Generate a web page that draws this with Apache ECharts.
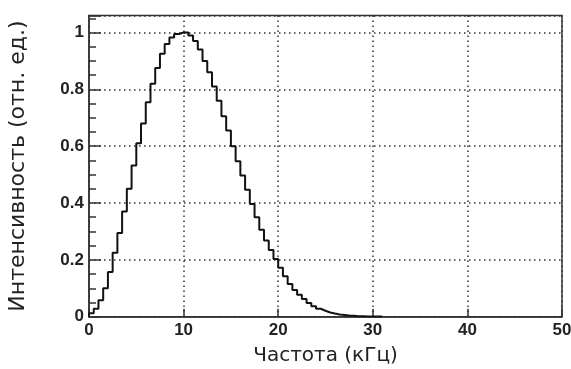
<!DOCTYPE html>
<html>
<head>
<meta charset="utf-8">
<script src="https://cdn.jsdelivr.net/npm/echarts@6/dist/echarts.min.js"></script>
<style>
  html, body { margin: 0; padding: 0; background: #fff; }
  #chart { width: 571px; height: 369px; }
</style>
</head>
<body>
<div id="chart"></div>
<script>
// гистограмма: ширина бина 0.5 кГц, начиная с 0
var binWidth = 0.5;
var counts = [
  0.012, 0.028, 0.058, 0.10, 0.157, 0.225, 0.295, 0.37, 0.45, 0.532,
  0.61, 0.68, 0.755, 0.82, 0.875, 0.925, 0.96, 0.983, 0.995, 1.0,
  1.0, 0.99, 0.97, 0.94, 0.90, 0.86, 0.81, 0.76, 0.705, 0.655,
  0.60, 0.547, 0.497, 0.447, 0.397, 0.35, 0.306, 0.268, 0.235, 0.203,
  0.172, 0.142, 0.115, 0.094, 0.077, 0.062, 0.048, 0.037, 0.028, 0.021,
  0.015, 0.011, 0.008, 0.006, 0.004, 0.003, 0.002, 0.0015, 0.001, 0.001,
  0.0005, 0.0003
];
var xTicks = [0, 10, 20, 30, 40, 50];
var yTicks = [0, 0.2, 0.4, 0.6, 0.8, 1];
var xTitle = 'Частота (кГц)';
var yTitle = 'Интенсивность (отн. ед.)';

/*контур гистограммы*/
var steps = [[0, 0]];
for (var i = 0; i < counts.length; i++) {
  steps.push([i * binWidth, counts[i]]);
}
steps.push([counts.length * binWidth, 0]);

var labelFont = {
  color: '#222',
  fontFamily: 'Liberation Sans',
  fontWeight: 'bold',
  fontSize: 17
};
var dotted = { color: '#333', width: 1.5, type: [1.5, 3.5] };

var chart = echarts.init(document.getElementById('chart'));
var option = {
  animation: false,
  grid: {
    left: 89, right: 9, top: 15.5, bottom: 52.3,
    show: true, borderColor: '#333', borderWidth: 1.5,
    containLabel: false,
    outerBoundsMode: 'none'
  },
  xAxis: {
    type: 'value',
    min: xTicks[0], max: xTicks[xTicks.length - 1], interval: 10,
    name: xTitle,
    nameLocation: 'middle',
    nameGap: 29,
    nameTextStyle: { color: '#222', fontFamily: 'DejaVu Sans', fontSize: 20 },
    axisLine: { show: true, lineStyle: { color: '#333', width: 1.5 } },
    axisTick: { show: true, inside: true, length: 8, lineStyle: { color: '#333', width: 1.5 } },
    axisLabel: Object.assign({ margin: 5 }, labelFont),
    splitLine: { show: true, lineStyle: dotted }
  },
  yAxis: {
    type: 'value',
    min: 0, max: 1.06, interval: 0.2,
    name: yTitle,
    nameLocation: 'middle',
    nameGap: 60,
    nameRotate: 90,
    nameTextStyle: { color: '#222', fontFamily: 'DejaVu Sans', fontSize: 22 },
    axisLine: { show: true, lineStyle: { color: '#333', width: 1.5 } },
    axisTick: { show: true, inside: true, length: 12, lineStyle: { color: '#333', width: 1.5 } },
    minorTick: { show: true, splitNumber: 4, length: 7, lineStyle: { color: '#333', width: 1.5 } },
    axisLabel: Object.assign({
      margin: 5,
      showMaxLabel: false,
      formatter: function (v) {
        for (var k = 0; k < yTicks.length; k++) {
          if (Math.abs(v - yTicks[k]) < 1e-6) return String(yTicks[k]);
        }
        return '';
      }
    }, labelFont),
    splitLine: { show: true, lineStyle: dotted }
  },
  series: [{
    type: 'line',
    step: 'end',
    symbol: 'none',
    data: steps,
    lineStyle: { color: '#111', width: 2 },
    z: 5
  }]
};
chart.setOption(option);
</script>
</body>
</html>
